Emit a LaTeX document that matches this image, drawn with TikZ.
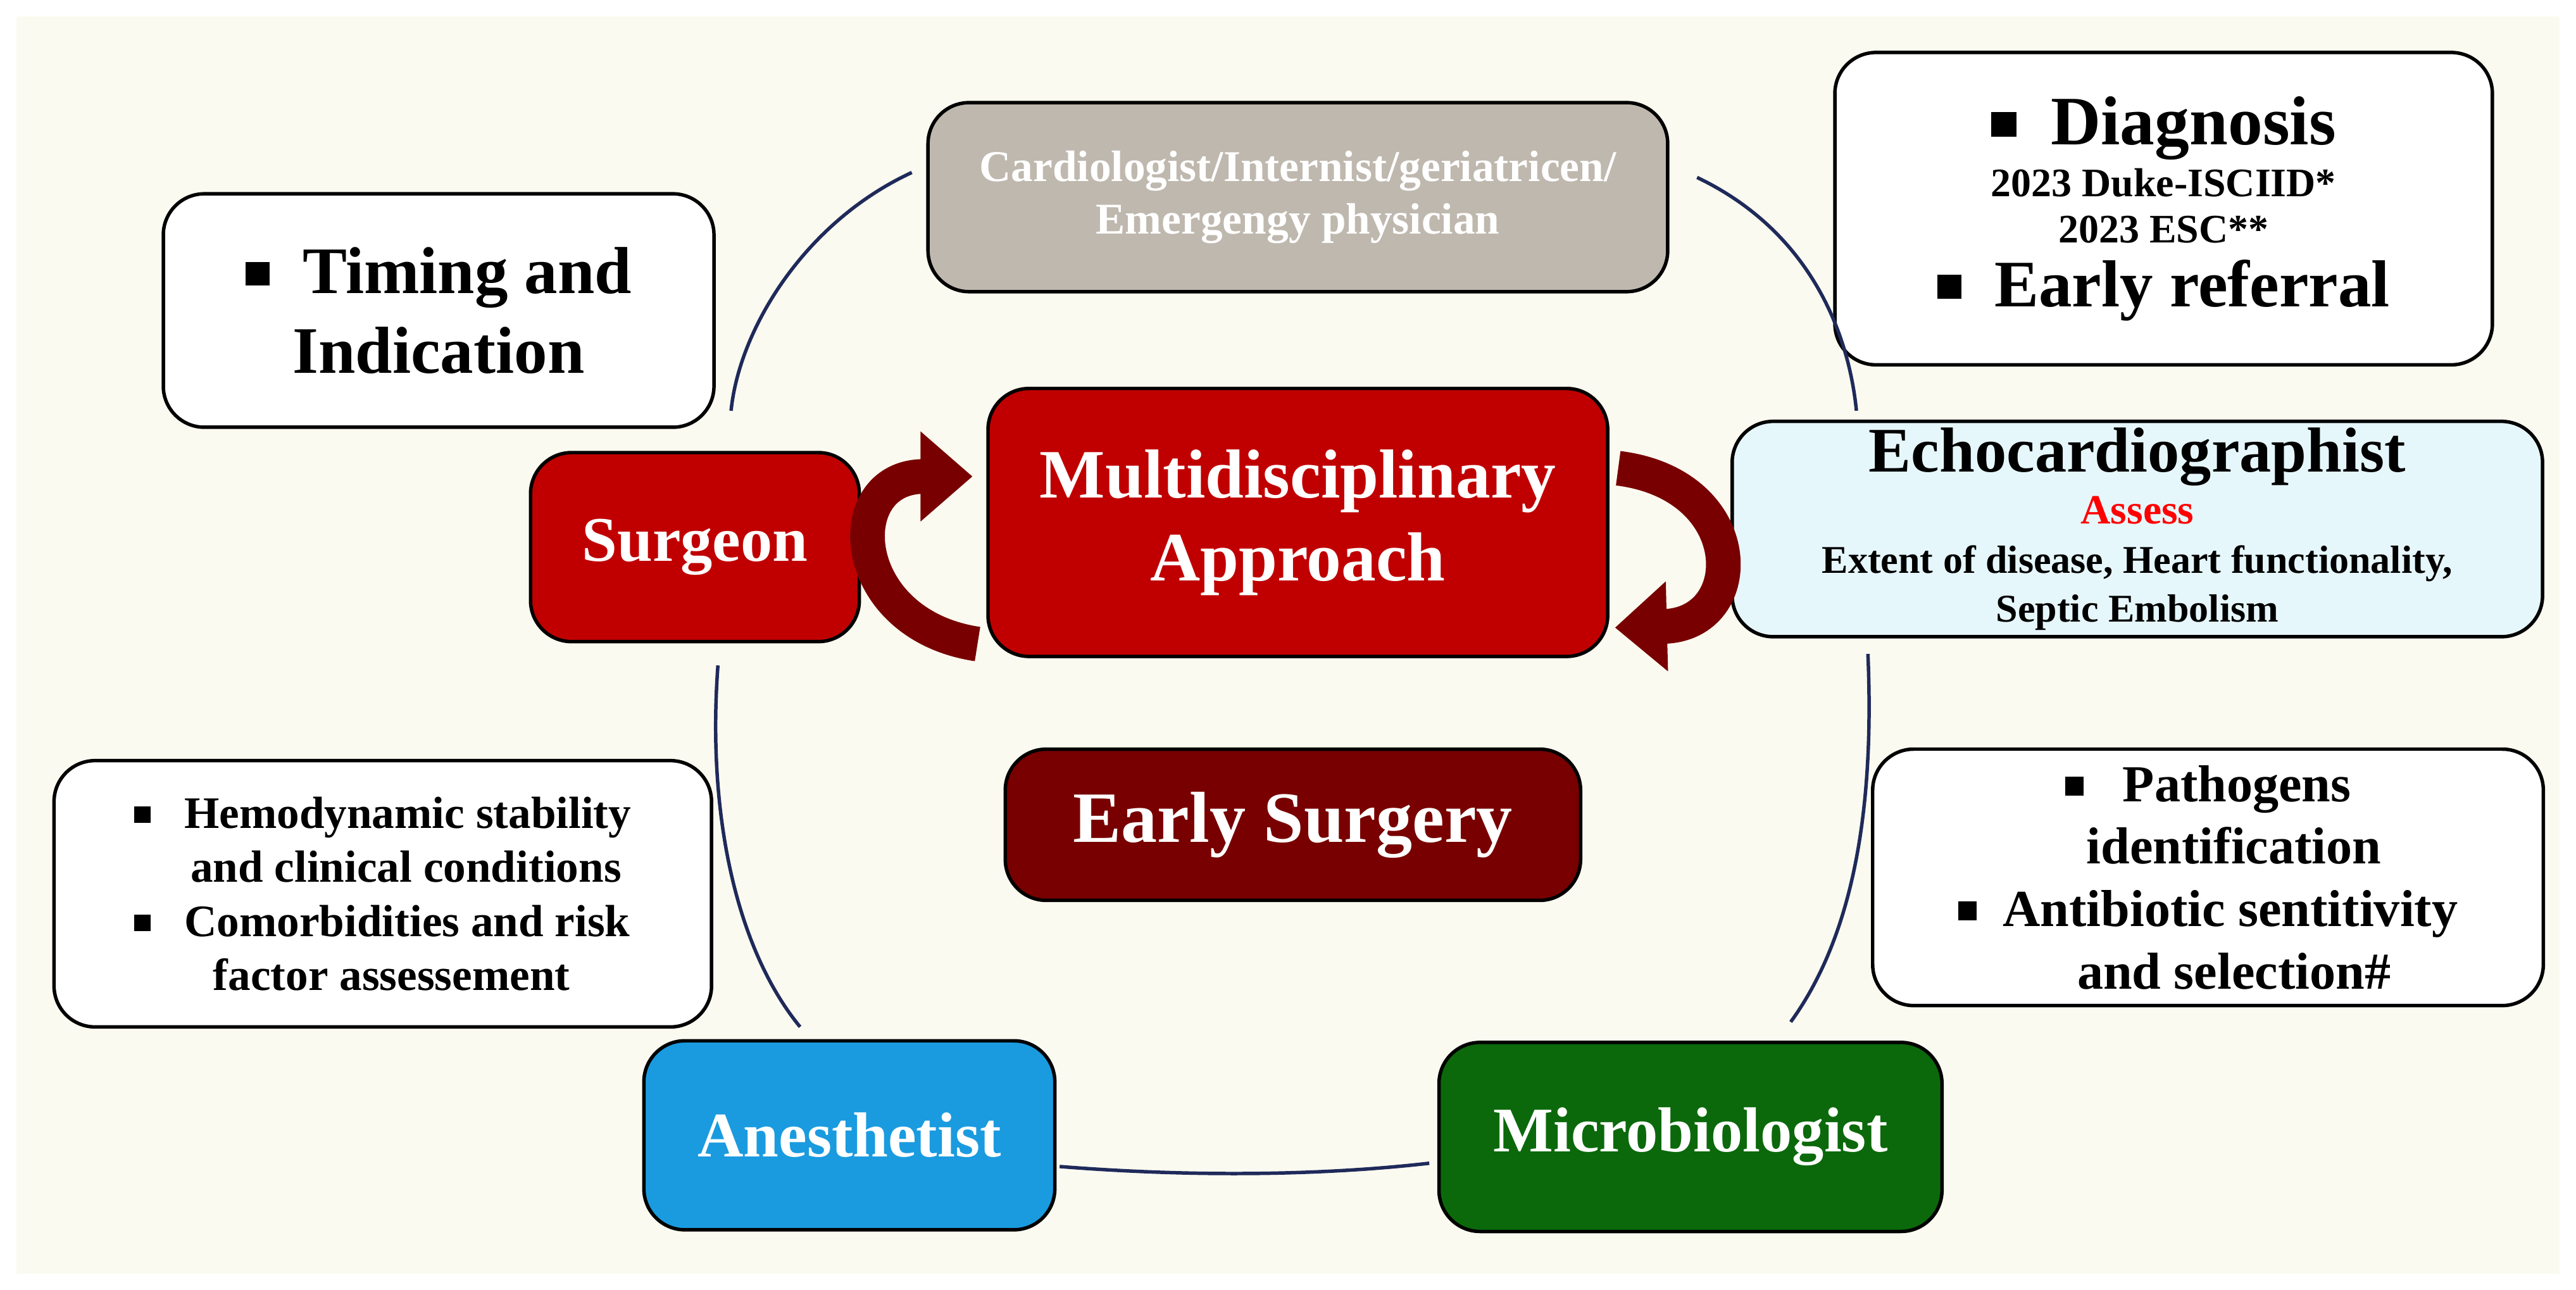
\documentclass[tikz,border=0pt]{standalone}
\usepackage{fontspec}
\setmainfont{Liberation Serif}
\usetikzlibrary{arrows.meta}
\definecolor{bg}{HTML}{FBFAF0}
\definecolor{gbox}{HTML}{BFB8AE}
\definecolor{rbox}{HTML}{C00000}
\definecolor{drbox}{HTML}{780000}
\definecolor{cbox}{HTML}{E6F7FC}
\definecolor{bbox}{HTML}{1A9BDF}
\definecolor{gnbox}{HTML}{0B690B}
\definecolor{navy}{HTML}{1F2A5A}
\newcommand{\fs}[1]{\fontsize{#1}{\fpeval{1.2*#1}}\selectfont}
\newcommand{\bsq}{\raisebox{0.25ex}{\rule{0.36em}{0.36em}}}
\begin{document}
\begin{tikzpicture}[x=0.01cm,y=-0.01cm,
 box/.style={draw=black,line width=0.6pt,rounded corners=0.25cm,align=center,font=\bfseries,inner sep=0pt},
 link/.style={navy,line width=0.6pt},
 rarr/.style={line width=6pt,drbox,-{Triangle[length=9pt,width=15pt]}}]
\fill[white] (0,0) rectangle (1568,785);
\fill[bg] (10,10) rectangle (1558,775);
\node[box,fill=gbox,text=white,minimum width=4.5cm,minimum height=1.15cm,font=\bfseries\fs{7.6}] (card) at (790,120) {Cardiologist/Internist/geriatricen/\\Emergengy physician};
\node[box,fill=white,minimum width=3.35cm,minimum height=1.42cm,font=\bfseries\fs{11.5}] (tim) at (267,189) {\bsq\ \ Timing and\\Indication};
\node[box,fill=white,minimum width=4.0cm,minimum height=1.9cm] (diag) at (1317,127) {{\fs{12}\bsq\ \ Diagnosis}\\[-3pt]{\fs{7}2023 Duke-ISCIID*}\\[-4pt]{\fs{7}2023 ESC**}\\[-1pt]{\fs{11.5}\bsq\ \ Early referral}};
\node[box,fill=rbox,text=white,minimum width=2.0cm,minimum height=1.15cm,font=\bfseries\fs{11}] (surg) at (423,333) {Surgeon};
\node[box,fill=rbox,text=white,minimum width=3.77cm,minimum height=1.63cm,font=\bfseries\fs{12}] (multi) at (790,318) {Multidisciplinary\\Approach};
\node[box,fill=cbox,minimum width=4.93cm,minimum height=1.31cm] (echo) at (1301,322) {{\fs{11}Echocardiographist}\\[-3pt]{\fs{7.2}\color{red}Assess}\\[-3.5pt]{\fs{6.8}Extent of disease, Heart functionality,}\\[-3.5pt]{\fs{6.8}Septic Embolism}};
\node[box,fill=drbox,text=white,minimum width=3.5cm,minimum height=0.92cm,font=\bfseries\fs{12.5}] (early) at (787,502) {Early Surgery};
\node[box,fill=white,minimum width=4.0cm,minimum height=1.62cm,align=left,font=\bfseries\fs{7.8}] (hemo) at (233,544) {\bsq\ \ \ Hemodynamic stability\\\ \ \ \ \ and clinical conditions\\\bsq\ \ \ Comorbidities and risk\\\ \ \ \ \ \ \ factor assessement};
\node[box,fill=white,minimum width=4.08cm,minimum height=1.56cm,font=\bfseries\fs{9}] (path) at (1344,534) {\bsq\ \ \ Pathogens\\\ \ \ \ identification\\\bsq\ \ Antibiotic sentitivity\\\ \ \ \ and selection\#};
\node[box,fill=bbox,text=white,minimum width=2.5cm,minimum height=1.15cm,font=\bfseries\fs{11}] (anes) at (517,691) {Anesthetist};
\node[box,fill=gnbox,text=white,minimum width=3.06cm,minimum height=1.15cm,font=\bfseries\fs{11}] (micro) at (1029,692) {Microbiologist};
\coordinate (c1) at (555,105);
\coordinate (c2) at (445,250);
\coordinate (c3) at (1033,108);
\coordinate (c4) at (1130,250);
\coordinate (c5) at (437,405);
\coordinate (c6) at (487,625);
\coordinate (c7) at (645,710);
\coordinate (c8) at (870,708);
\coordinate (c9) at (1090,622);
\coordinate (c10) at (1137,398);
\draw[link] (c1) .. controls (490,135) and (450,200) .. (c2);
\draw[link] (c3) .. controls (1100,140) and (1125,200) .. (c4);
\draw[link] (c5) .. controls (430,500) and (450,580) .. (c6);
\draw[link] (c7) .. controls (720,716) and (800,716) .. (c8);
\draw[link] (c9) .. controls (1135,560) and (1140,470) .. (c10);
\draw[rarr] (595,392) .. controls (515,380) and (510,290) .. (592,290);
\draw[rarr] (985,285) .. controls (1065,295) and (1065,380) .. (983,382);
\end{tikzpicture}
\end{document}
